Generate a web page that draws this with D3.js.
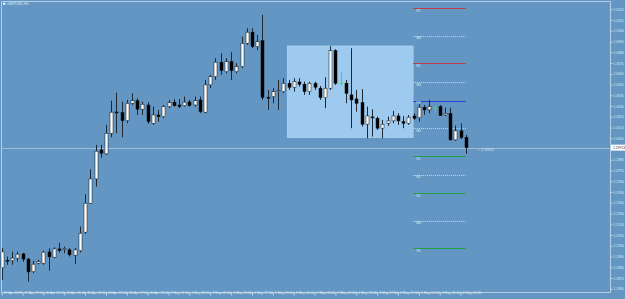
<!DOCTYPE html>
<html><head><meta charset="utf-8">
<script src="https://cdn.jsdelivr.net/npm/d3@7"></script>
<style>html,body{margin:0;padding:0;background:#6396c3;overflow:hidden}svg{display:block}</style>
</head><body><svg id="c" width="625" height="299"></svg>
<script>
const symbolTitle = "GBPUSD,H1";
const opens  = [1.28795,1.28864,1.28862,1.28885,1.28925,1.28876,1.28760,1.28838,1.28838,1.28943,1.28894,1.28971,1.28967,1.28962,1.28913,1.28955,1.29127,1.29396,1.29622,1.29892,1.29855,1.30047,1.30245,1.30239,1.30164,1.30326,1.30350,1.30270,1.30310,1.30140,1.30217,1.30202,1.30295,1.30336,1.30310,1.30304,1.30338,1.30310,1.30357,1.30243,1.30497,1.30574,1.30708,1.30620,1.30713,1.30620,1.30667,1.30884,1.30987,1.30853,1.30908,1.30382,1.30388,1.30438,1.30434,1.30512,1.30475,1.30524,1.30503,1.30434,1.30512,1.30466,1.30378,1.30466,1.30815,1.30512,1.30512,1.30404,1.30366,1.30332,1.30131,1.30199,1.30187,1.30094,1.30140,1.30162,1.30208,1.30155,1.30140,1.30208,1.30192,1.30289,1.30264,1.30280,1.30295,1.30217,1.30233,1.29985,1.30069,1.30010];
const highs  = [1.28981,1.28900,1.28946,1.28946,1.28934,1.28888,1.28860,1.28869,1.28955,1.28978,1.28987,1.29027,1.28993,1.28978,1.28978,1.29179,1.29480,1.29712,1.29939,1.29939,1.30125,1.30350,1.30425,1.30341,1.30357,1.30419,1.30373,1.30341,1.30336,1.30295,1.30264,1.30310,1.30357,1.30364,1.30364,1.30388,1.30357,1.30388,1.30388,1.30543,1.30590,1.30745,1.30791,1.30745,1.30801,1.30698,1.30946,1.31024,1.31024,1.30962,1.31148,1.30450,1.30466,1.30543,1.30559,1.30543,1.30559,1.30559,1.30527,1.30527,1.30527,1.30487,1.30568,1.30859,1.30829,1.30620,1.30543,1.30838,1.30450,1.30457,1.30295,1.30270,1.30202,1.30171,1.30202,1.30255,1.30233,1.30208,1.30217,1.30233,1.30317,1.30310,1.30357,1.30301,1.30310,1.30285,1.30285,1.30118,1.30140,1.30032];
const lows   = [1.28683,1.28823,1.28823,1.28853,1.28850,1.28667,1.28745,1.28827,1.28823,1.28769,1.28885,1.28937,1.28931,1.28900,1.28832,1.28937,1.29111,1.29390,1.29551,1.29818,1.29846,1.30010,1.30047,1.30010,1.30140,1.30310,1.30217,1.30217,1.30134,1.30125,1.30155,1.30187,1.30280,1.30295,1.30280,1.30295,1.30295,1.30295,1.30233,1.30233,1.30466,1.30543,1.30590,1.30605,1.30543,1.30605,1.30652,1.30869,1.30838,1.30822,1.30357,1.30264,1.30326,1.30264,1.30419,1.30450,1.30434,1.30481,1.30404,1.30404,1.30450,1.30357,1.30280,1.30450,1.30497,1.30487,1.30326,1.30094,1.30248,1.30109,1.30001,1.30016,1.30078,1.30001,1.30115,1.30140,1.30125,1.30094,1.30125,1.30171,1.30155,1.30217,1.30233,1.30243,1.30208,1.30208,1.29980,1.29976,1.29992,1.29855];
const closes = [1.28943,1.28857,1.28885,1.28922,1.28876,1.28757,1.28829,1.28853,1.28941,1.28897,1.28971,1.28955,1.28976,1.28916,1.28962,1.29117,1.29396,1.29622,1.29880,1.29861,1.30047,1.30243,1.30238,1.30164,1.30326,1.30350,1.30270,1.30317,1.30155,1.30217,1.30202,1.30295,1.30332,1.30304,1.30295,1.30336,1.30304,1.30350,1.30248,1.30497,1.30574,1.30708,1.30630,1.30713,1.30630,1.30667,1.30884,1.30987,1.30853,1.30899,1.30378,1.30376,1.30434,1.30443,1.30512,1.30475,1.30527,1.30503,1.30434,1.30512,1.30475,1.30378,1.30466,1.30815,1.30512,1.30512,1.30419,1.30357,1.30326,1.30131,1.30208,1.30192,1.30094,1.30131,1.30162,1.30208,1.30162,1.30140,1.30196,1.30187,1.30289,1.30264,1.30295,1.30280,1.30211,1.30233,1.29985,1.30069,1.30006,1.29913];
const priceTicks = [1.3120,1.3110,1.3100,1.3090,1.3080,1.3070,1.3060,1.3050,1.3040,1.3030,1.3020,1.3010,1.3000,1.2980,1.2970,1.2960,1.2950,1.2940,1.2930,1.2920,1.2910,1.2900,1.2890,1.2880,1.2870,1.2860];
const timeTickBars = [0,4,8,12,16,20,24,28,32,36,40,44,48,52,56,60,64,68,72,76,80,84,88];
const timeTickLabels = ["29 Apr 2019","29 Apr 21:00","30 Apr 01:00","30 Apr 05:00","30 Apr 09:00","30 Apr 13:00","30 Apr 17:00","30 Apr 21:00","1 May 01:00","1 May 05:00","1 May 09:00","1 May 13:00","1 May 17:00","1 May 21:00","2 May 01:00","2 May 05:00","2 May 09:00","2 May 13:00","2 May 17:00","2 May 21:00","3 May 01:00","3 May 05:00","3 May 09:00"];
const pivotNames  = ["R2","M4","R1","M3","PP","M2","S1","M1","S2","M0","S3"];
const pivotValues = [1.31210,1.30955,1.30698,1.30522,1.30348,1.30094,1.29833,1.29660,1.29489,1.29232,1.28978];
const pivotKinds  = ["r","m","r","m","p","m","s","m","s","m","s"];
const pivotStartBar = 78.9, pivotEndBar = 89;
const boxBars = [54.75, 78.9];
const boxPrices = [1.30859, 1.30006];
const bidPrice = 1.29913;

const W = 625, H = 299;
const plot = {l: 2, r: 610, t: 2, b: 292};
const svg = d3.select("#c");
const x = d3.scaleLinear().domain([0, 89]).range([1.7, 465.8]);
const y = d3.scaleLinear().domain([1.2857, 1.31268]).range([plot.b, plot.t]);
const font = "'Liberation Sans', Arial, sans-serif";
const txt = "#dfe8f2";

svg.append("rect").attr("width", W).attr("height", H).attr("fill", "#6396c3");

// selection box
svg.append("rect")
  .attr("x", x(boxBars[0])).attr("y", y(boxPrices[0]))
  .attr("width", x(boxBars[1]) - x(boxBars[0])).attr("height", y(boxPrices[1]) - y(boxPrices[0]))
  .attr("fill", "#9dcaee").attr("stroke", "#b4d8f4").attr("stroke-width", 0.6);

// pivot lines
const pcol = {r: "#c43b4a", m: "#c9d9ea", p: "#2b3fd6", s: "#22a046"};
const pg = svg.append("g");
pivotValues.forEach((v, i) => {
  const k = pivotKinds[i];
  pg.append("line").attr("x1", x(pivotStartBar)).attr("x2", x(pivotEndBar))
    .attr("y1", Math.round(y(v)) + 0.5).attr("y2", Math.round(y(v)) + 0.5)
    .attr("stroke", pcol[k]).attr("stroke-width", 1)
    .attr("stroke-dasharray", k === "m" ? "1,1" : null);
  pg.append("text").attr("x", x(pivotStartBar) + 3).attr("y", y(v) + 3.6)
    .attr("font-family", font).attr("font-size", 3.4).attr("fill", txt).text(pivotNames[i]);
});

// bid line
svg.append("line").attr("x1", plot.l).attr("x2", plot.r)
  .attr("y1", Math.round(y(bidPrice)) + 0.5).attr("y2", Math.round(y(bidPrice)) + 0.5)
  .attr("stroke", "#9fbad6").attr("stroke-width", 1);

// candles
const bars = opens.map((o, i) => ({i, o, h: highs[i], l: lows[i], c: closes[i]}));
const cg = svg.append("g");
bars.forEach(d => {
  const cx = Math.round(x(d.i)) + 0.5;
  const doji = d.o === d.c;
  cg.append("line").attr("x1", cx).attr("x2", cx).attr("y1", y(d.h)).attr("y2", y(d.l))
    .attr("stroke", doji ? "#2ee84a" : "#1e2833").attr("stroke-width", 1);
  if (doji) {
    cg.append("line").attr("x1", cx - 1.5).attr("x2", cx + 1.5).attr("y1", y(d.o)).attr("y2", y(d.o))
      .attr("stroke", "#2ee84a").attr("stroke-width", 1);
    return;
  }
  const top = y(Math.max(d.o, d.c)), bot = y(Math.min(d.o, d.c));
  const bull = d.c > d.o;
  cg.append("rect").attr("x", cx - 1.5).attr("y", top).attr("width", 3).attr("height", Math.max(1, bot - top))
    .attr("fill", bull ? "#ffffff" : "#000000").attr("stroke", "#111").attr("stroke-width", 0.5);
});

// frame
svg.append("path").attr("d", `M${plot.l - 0.5},${plot.b + 0.5}V${plot.t - 0.5}H${plot.r + 0.5}V${plot.b + 0.5}Z`)
  .attr("fill", "none").attr("stroke", "#b7cde3").attr("stroke-width", 1);

// right axis
const ra = svg.append("g").attr("transform", `translate(${plot.r + 0.5},0)`)
  .call(d3.axisRight(y).tickValues(priceTicks).tickSize(2).tickPadding(1).tickFormat(d3.format(".4f")));
ra.select(".domain").remove();
ra.selectAll("line").attr("stroke", "#c8d8ea");
ra.selectAll("text").attr("font-family", font).attr("font-size", 3.4).attr("fill", txt);

// bid label
svg.append("rect").attr("x", plot.r + 1).attr("y", y(bidPrice) - 3).attr("width", 15).attr("height", 6).attr("fill", "#ffffff");
svg.append("text").attr("x", plot.r + 3).attr("y", y(bidPrice) + 1.3).attr("font-family", font).attr("font-size", 3.4)
  .attr("fill", "#333").text(d3.format(".5f")(bidPrice));
svg.append("text").attr("x", 477).attr("y", y(bidPrice) + 3.6).attr("font-family", font).attr("font-size", 3.4)
  .attr("fill", txt).text("↑↓ " + d3.format(".5f")(bidPrice));

// bottom axis
const ba = svg.append("g").attr("transform", `translate(0,${plot.b + 0.5})`)
  .call(d3.axisBottom(x).tickValues(timeTickBars).tickSize(3).tickPadding(-2)
    .tickFormat((d, i) => timeTickLabels[i]));
ba.select(".domain").remove();
ba.selectAll("line").attr("stroke", "#c8d8ea");
ba.selectAll("text").attr("font-family", font).attr("font-size", 3.4).attr("fill", txt)
  .attr("text-anchor", "start").attr("dx", 1.5).attr("dy", 0);

// title
svg.append("rect").attr("x", 3).attr("y", 2.8).attr("width", 2.4).attr("height", 2).attr("fill", "#eef4fa");
svg.append("text").attr("x", 7).attr("y", 5.2).attr("font-family", font).attr("font-size", 3.8).attr("fill", txt).text(symbolTitle);
</script></body></html>
